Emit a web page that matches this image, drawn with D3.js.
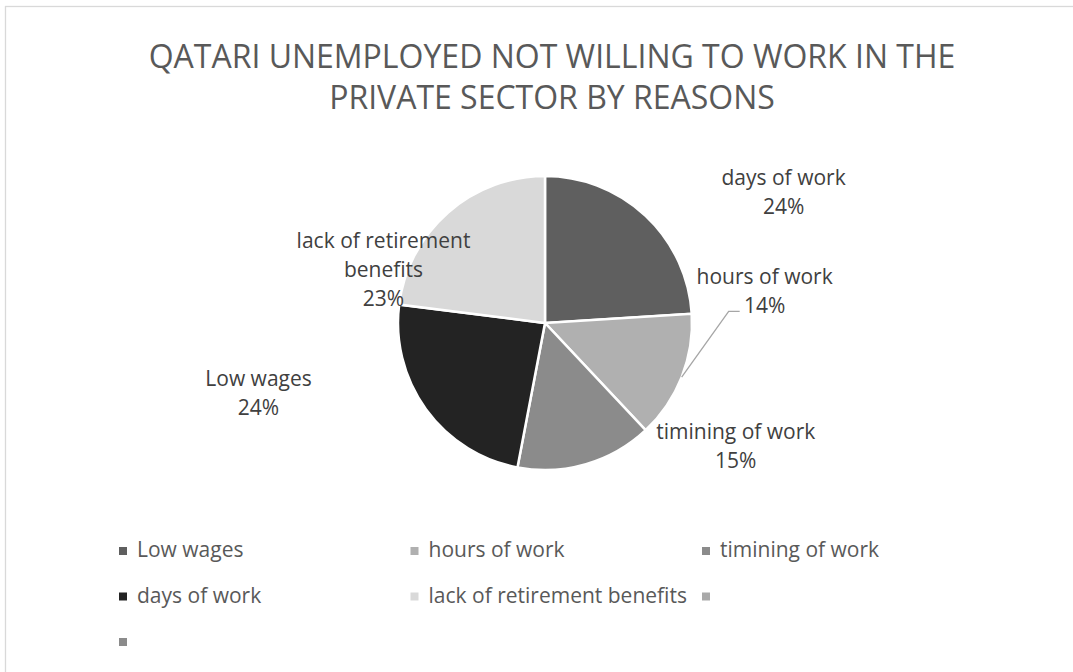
<!DOCTYPE html>
<html>
<head>
<meta charset="utf-8">
<script src="https://cdn.jsdelivr.net/npm/d3@7"></script>
<style>
  body { margin: 0; background: #fff; }
  svg { display: block; font-family: "Open Sans", sans-serif; }
</style>
</head>
<body>
<div id="chart"></div>
<script>
// slices, clockwise from 12 o'clock
const sliceNames = ['days of work', 'hours of work', 'timining of work', 'Low wages', 'lack of retirement benefits'];
const sliceValues = [24, 14, 15, 24, 23];
const sliceColors = ['#5f5f5f', '#b0b0b0', '#8b8b8b', '#232323', '#d9d9d9'];
// data labels as wrapped in the picture
const labelLines = [['days of work'], ['hours of work'], ['timining of work'], ['Low wages'], ['lack of retirement', 'benefits']];

// legend (as it appears, incl. the two empty entries)
const legendNames = ['Low wages', 'hours of work', 'timining of work', 'days of work', 'lack of retirement benefits', '', ''];
const legendColors = ['#5f5f5f', '#b0b0b0', '#8b8b8b', '#232323', '#d9d9d9', '#a9a9a9', '#8b8b8b'];

const titleLines = ['QATARI UNEMPLOYED NOT WILLING TO WORK IN THE', 'PRIVATE SECTOR BY REASONS'];

const width = 1073;
const height = 672;
const cx = 545, cy = 323, radius = 147;

// label anchors: angle (deg, clockwise from top) and distance from centre
const labelPolar = [
  { a: 61.3, r: 272 },
  { a: 81.7, r: 222 },
  { a: 122.8, r: 227 },
  { a: 256.2, r: 295 },
  { a: 288.2, r: 170 },
];

const svg = d3.select('#chart')
  .append('svg')
  .attr('width', width)
  .attr('height', height);

svg.append('rect')
  .attr('x', 5.5).attr('y', 6.5)
  .attr('width', 1070).attr('height', 670)
  .attr('fill', '#fff')
  .attr('stroke', '#d9d9d9')
  .attr('stroke-width', 1.3);

svg.append('g')
  .selectAll('text')
  .data(titleLines)
  .join('text')
  .attr('x', 552)
  .attr('y', (d, i) => 57 + i * 41)
  .attr('dy', '0.35em')
  .attr('text-anchor', 'middle')
  .attr('font-size', 32)
  .attr('fill', '#595959')
  .text(d => d);

const pie = d3.pie().sort(null).value(d => d);
const arcs = pie(sliceValues);
const arc = d3.arc().innerRadius(0).outerRadius(radius);

const pieG = svg.append('g').attr('transform', `translate(${cx},${cy})`);

pieG.selectAll('path')
  .data(arcs)
  .join('path')
  .attr('d', arc)
  .attr('fill', (d, i) => sliceColors[i])
  .attr('stroke', '#fff')
  .attr('stroke-width', 2.5);

const total = d3.sum(sliceValues);
const pct = d3.format('.0%');
const lineH = 29;

const labels = arcs.map((d, i) => {
  const a = labelPolar[i].a * Math.PI / 180;
  const lines = labelLines[i].concat(pct(sliceValues[i] / total));
  return {
    x: Math.sin(a) * labelPolar[i].r,
    y: -Math.cos(a) * labelPolar[i].r,
    lines,
    arc: d,
  };
});

// leader line for "hours of work"
{
  const l = labels[1];
  const mid = (l.arc.startAngle + l.arc.endAngle) / 2;
  const p0 = [Math.sin(mid) * radius, -Math.cos(mid) * radius];
  const py = l.y + lineH / 2 + 6;
  pieG.append('polyline')
    .attr('points', [p0, [l.x - 36, py], [l.x - 25, py]].map(p => p.join(',')).join(' '))
    .attr('fill', 'none')
    .attr('stroke', '#a6a6a6')
    .attr('stroke-width', 1.3);
}

const labelG = pieG.selectAll('g.lbl')
  .data(labels)
  .join('g')
  .attr('class', 'lbl');

labelG.selectAll('text')
  .data(d => d.lines.map((t, j) => ({ t, x: d.x, y: d.y + (j - (d.lines.length - 1) / 2) * lineH })))
  .join('text')
  .attr('x', d => d.x)
  .attr('y', d => d.y)
  .attr('dy', '0.35em')
  .attr('text-anchor', 'middle')
  .attr('font-size', 21)
  .attr('fill', '#404040')
  .text(d => d.t);

// legend: 3 columns
const colX = d3.scalePoint().domain([0, 1, 2]).range([123, 706]);
const rowY = d3.scalePoint().domain([0, 1, 2]).range([550, 641]);

const leg = svg.append('g')
  .selectAll('g')
  .data(legendNames)
  .join('g')
  .attr('transform', (d, i) => `translate(${colX(i % 3)},${rowY(Math.floor(i / 3))})`);

leg.append('rect')
  .attr('x', -4).attr('y', -3)
  .attr('width', 8).attr('height', 8)
  .attr('fill', (d, i) => legendColors[i]);

leg.append('text')
  .attr('x', 14)
  .attr('dy', '0.35em')
  .attr('font-size', 21)
  .attr('fill', '#595959')
  .text(d => d);
</script>
</body>
</html>
